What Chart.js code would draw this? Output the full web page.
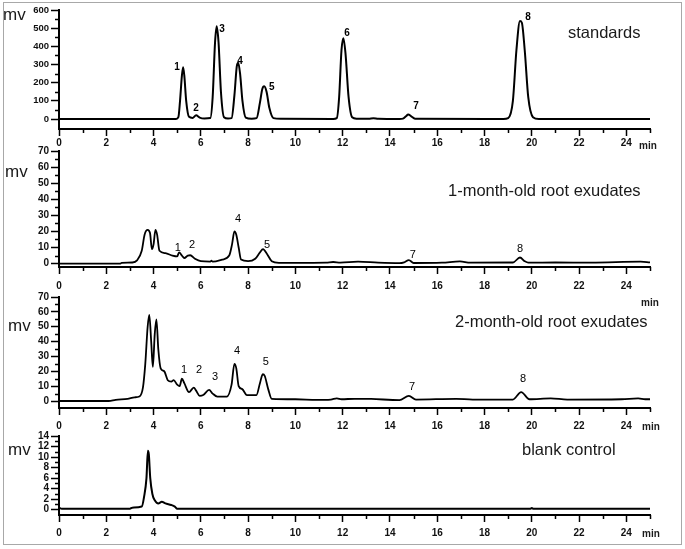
<!DOCTYPE html>
<html>
<head>
<meta charset="utf-8">
<script src="https://cdn.jsdelivr.net/npm/chart.js@4.4.1/dist/chart.umd.min.js"></script>
<style>
  body { margin: 0; background: #fff; }
  #wrap { position: relative; width: 685px; height: 549px; overflow: hidden; }
  #frame { position: absolute; left: 3px; top: 2px; width: 677px; height: 541px; border: 1.5px solid #a8a8a8; }
  canvas { position: absolute; left: 0; }
</style>
</head>
<body>
<div id="wrap">
  <div id="frame"></div>
  <canvas id="c1"></canvas>
  <canvas id="c2"></canvas>
  <canvas id="c3"></canvas>
  <canvas id="c4"></canvas>
</div>
<script>
// time axis (min)
const xTicks = [0, 2, 4, 6, 8, 10, 12, 14, 16, 18, 20, 22, 24];
const xMinor = [1, 3, 5, 7, 9, 11, 13, 15, 17, 19, 21, 23, 25];

// standards
const stdTime = [0, 4.95, 5.05, 5.12, 5.2, 5.25, 5.3, 5.38, 5.5, 5.65, 5.8, 5.95, 6.15, 6.4, 6.5, 6.6, 6.67, 6.75, 6.85, 6.98, 7.15, 7.3, 7.42, 7.52, 7.58, 7.66, 7.76, 7.9, 8.15, 8.36, 8.5, 8.6, 8.68, 8.78, 8.9, 9.07, 9.4, 11.6, 11.75, 11.85, 11.95, 12.03, 12.12, 12.25, 12.4, 12.6, 13.1, 13.3, 13.5, 14.4, 14.55, 14.68, 14.77, 14.9, 15.06, 18.8, 19.0, 19.2, 19.35, 19.5, 19.58, 19.7, 19.85, 20.05, 20.3, 25];
const stdMv = [0, 0, 10, 100, 240, 285, 240, 100, 12, 6, 20, 8, 3, 5, 120, 420, 510, 420, 150, 10, 3, 5, 130, 290, 310, 250, 100, 8, 2, 5, 90, 165, 180, 150, 60, 5, 1, 0, 5, 120, 380, 445, 360, 120, 10, 2, 1, 4, 1, 0, 2, 15, 25, 15, 2, 0, 5, 100, 380, 540, 530, 380, 120, 10, 0, 0];
const stdTicks = [0, 100, 200, 300, 400, 500, 600];
const stdMinor = [50, 150, 250, 350, 450, 550];
const stdPeakNames = ["1", "2", "3", "4", "5", "6", "7", "8"];
const stdPeakT = [4.99, 5.8, 6.9, 7.66, 9.0, 12.18, 15.1, 19.84];
const stdPeakV = [286, 61, 495, 319, 176, 473, 72, 561];

// 1-month-old root exudates
const oneTime = [0, 2.6, 2.65, 3.1, 3.3, 3.5, 3.62, 3.75, 3.85, 3.93, 4.0, 4.08, 4.15, 4.25, 4.5, 4.8, 5.0, 5.08, 5.2, 5.3, 5.45, 5.55, 5.75, 6.0, 6.4, 6.45, 6.5, 6.9, 7.2, 7.32, 7.42, 7.5, 7.6, 7.7, 8.0, 8.3, 8.5, 8.63, 8.8, 9.0, 9.3, 10.5, 11.3, 11.6, 11.9, 12.65, 13.5, 14.4, 14.6, 14.8, 15.0, 16.2, 16.96, 17.4, 19.2, 19.5, 19.7, 19.85, 21.0, 22.5, 24.6, 25];
const oneMv = [0, 0, 0.5, 0.7, 2, 8, 18, 21, 19, 9, 12, 21, 18, 8, 6.5, 5, 4.5, 7, 5, 3.5, 5, 5.2, 3, 1.5, 1.3, 1.8, 1.2, 2.5, 5, 12, 20, 18, 10, 2.5, 1.5, 3, 7, 9, 6, 1.5, 0.5, 0.5, 0.6, 1, 0.6, 1.2, 0.6, 0.3, 0.8, 2.2, 0.4, 0.6, 1.4, 0.6, 0.7, 3.8, 1.5, 0.6, 0.7, 0.6, 1.2, 0.8];
const rootTicks = [0, 10, 20, 30, 40, 50, 60, 70];
const rootMinor = [5, 15, 25, 35, 45, 55, 65];
const onePeakNames = ["1", "2", "4", "5", "7", "8"];
const onePeakT = [5.03, 5.63, 7.57, 8.8, 14.97, 19.5];
const onePeakV = [9.5, 11.4, 27.5, 11.4, 5.2, 8.9];

// 2-month-old root exudates
const twoTime = [0, 2.1, 2.4, 2.9, 3.2, 3.4, 3.55, 3.65, 3.75, 3.82, 3.9, 3.97, 4.05, 4.12, 4.2, 4.3, 4.45, 4.6, 4.75, 4.85, 5.0, 5.1, 5.2, 5.3, 5.5, 5.7, 5.8, 5.95, 6.1, 6.35, 6.5, 6.7, 7.1, 7.3, 7.42, 7.5, 7.6, 7.75, 7.95, 8.35, 8.5, 8.62, 8.7, 8.85, 9.0, 10.0, 10.9, 11.5, 11.75, 11.95, 12.5, 13.2, 14.4, 14.8, 15.1, 16.8, 17.5, 19.2, 19.55, 19.9, 20.8, 21.5, 23.8, 24.5, 24.8, 25];
const twoMv = [0, 0, 0.8, 1.5, 2.5, 3, 9, 25, 50, 58, 40, 23, 45, 55, 35, 22, 20, 14, 13, 14, 11, 10, 15, 12, 6, 9, 7, 3.5, 4, 7.5, 5, 3, 3, 11, 25, 22, 10, 8, 4, 4, 12, 18, 17, 8, 1.5, 1.2, 0.8, 1, 1.8, 1.2, 1.5, 1.4, 0.6, 3.5, 1.0, 1.5, 1.0, 1.0, 6, 1.2, 1.8, 1.0, 1.2, 1.8, 1.2, 1.2];
const twoPeakNames = ["1", "2", "3", "4", "5", "7", "8"];
const twoPeakT = [5.29, 5.92, 6.6, 7.53, 8.75, 14.93, 19.63];
const twoPeakV = [20.7, 20.7, 16, 33.4, 26, 9.2, 14.6];

// blank control
const blankTime = [0, 0.12, 3.0, 3.1, 3.5, 3.6, 3.7, 3.76, 3.8, 3.86, 3.95, 4.05, 4.2, 4.35, 4.5, 4.75, 4.9, 5.0, 19.95, 20.0, 20.05, 25];
const blankMv = [0.4, 0.2, 0.2, 0.4, 0.6, 2.5, 6, 11.2, 10.5, 6, 3, 1.8, 1.2, 1.5, 1.2, 0.9, 0.6, 0.2, 0.2, 0.35, 0.2, 0.2];
const blankTicks = [0, 2, 4, 6, 8, 10, 12, 14];
const blankMinor = [1, 3, 5, 7, 9, 11, 13];

const FONT = "'Liberation Sans', Arial, sans-serif";
Chart.defaults.font.family = FONT;
Chart.defaults.color = "#000";

const panels = [
  { id: "c1", areaTop: 10, axisY: 129, yMin: -55, yMax: 600, yTicks: stdTicks, yMinor: stdMinor, yFont: 9.5,
    time: stdTime, mv: stdMv, names: stdPeakNames, pt: stdPeakT, pv: stdPeakV, peakFont: "bold 10px " + FONT,
    title: "standards", titleX: 568, titleY: 38, mvX: 3, mvY: 20, minX: 639, minY: 149, xPad: 1, lw: 2 },
  { id: "c2", areaTop: 151, axisY: 267, yMin: -2.1, yMax: 70, yTicks: rootTicks, yMinor: rootMinor, yFont: 10,
    time: oneTime, mv: oneMv, names: onePeakNames, pt: onePeakT, pv: onePeakV, peakFont: "11px " + FONT,
    title: "1-month-old root exudates", titleX: 448, titleY: 196, mvX: 5, mvY: 177, minX: 641, minY: 306, xPad: 6, lw: 1.8 },
  { id: "c3", areaTop: 297, axisY: 408, yMin: -4.7, yMax: 70, yTicks: rootTicks, yMinor: rootMinor, yFont: 10,
    time: twoTime, mv: twoMv, names: twoPeakNames, pt: twoPeakT, pv: twoPeakV, peakFont: "11px " + FONT,
    title: "2-month-old root exudates", titleX: 455, titleY: 327, mvX: 8, mvY: 331, minX: 642, minY: 430, xPad: 5, lw: 1.8 },
  { id: "c4", areaTop: 436, axisY: 515, yMin: -1, yMax: 14, yTicks: blankTicks, yMinor: blankMinor, yFont: 10,
    time: blankTime, mv: blankMv, names: [], pt: [], pv: [], peakFont: "11px " + FONT,
    title: "blank control", titleX: 522, titleY: 455, mvX: 8, mvY: 455, minX: 642, minY: 537, xPad: 5, lw: 2 }
];

const PAD_TOP = 10;
const X_H = 32;
const PAD_BOTTOM = 16;

panels.forEach(function (p) {
  const cv = document.getElementById(p.id);
  const top = p.areaTop - PAD_TOP;
  const h = PAD_TOP + (p.axisY - p.areaTop) + X_H + PAD_BOTTOM;
  cv.width = 685;
  cv.height = h;
  cv.style.top = top + "px";
  cv.style.width = "685px";
  cv.style.height = h + "px";

  const deco = {
    id: "deco",
    afterDraw(chart) {
      const ctx = chart.ctx;
      const xs = chart.scales.x, ys = chart.scales.y;
      ctx.save();
      ctx.strokeStyle = "#000";
      ctx.lineWidth = 1.5;
      ctx.beginPath();
      p.yMinor.forEach(function (v) {
        const py = Math.round(ys.getPixelForValue(v)) + 0.5;
        ctx.moveTo(ys.right - 4, py);
        ctx.lineTo(ys.right, py);
      });
      xMinor.forEach(function (v) {
        const px = Math.round(xs.getPixelForValue(v)) + 0.5;
        ctx.moveTo(px, xs.top);
        ctx.lineTo(px, xs.top + 4);
      });
      ctx.stroke();

      ctx.fillStyle = "#000";
      ctx.textAlign = "center";
      ctx.textBaseline = "middle";
      ctx.font = p.peakFont;
      p.names.forEach(function (n, i) {
        ctx.fillText(n, xs.getPixelForValue(p.pt[i]), ys.getPixelForValue(p.pv[i]));
      });

      ctx.textAlign = "left";
      ctx.textBaseline = "alphabetic";
      ctx.fillStyle = "#1a1a1a";
      ctx.font = "16.5px " + FONT;
      ctx.fillText(p.title, p.titleX, p.titleY - top);
      ctx.font = "17px " + FONT;
      ctx.fillText("mv", p.mvX, p.mvY - top);
      ctx.font = "bold 10px " + FONT;
      ctx.fillText("min", p.minX, p.minY - top);
      ctx.restore();
    }
  };

  new Chart(cv, {
    type: "line",
    data: {
      datasets: [{
        data: p.time.map(function (t, i) { return { x: t, y: p.mv[i] }; }),
        borderColor: "#000",
        borderWidth: p.lw,
        pointRadius: 0,
        cubicInterpolationMode: "monotone",
        fill: false
      }]
    },
    options: {
      responsive: false,
      animation: false,
      events: [],
      layout: { padding: { top: PAD_TOP, left: 0, right: 35, bottom: PAD_BOTTOM } },
      plugins: { legend: { display: false }, tooltip: { enabled: false } },
      scales: {
        x: {
          type: "linear",
          min: 0,
          max: 25,
          afterFit: function (s) { s.height = X_H; },
          afterBuildTicks: function (s) { s.ticks = xTicks.map(function (v) { return { value: v }; }); },
          grid: { drawOnChartArea: false, tickLength: 7, tickWidth: 1.5, tickColor: "#000" },
          border: { color: "#000", width: 2 },
          ticks: { padding: p.xPad, autoSkip: false, maxRotation: 0, font: { size: 10, weight: "bold" }, color: "#111" }
        },
        y: {
          min: p.yMin,
          max: p.yMax,
          afterFit: function (s) { s.width = 59; },
          afterBuildTicks: function (s) { s.ticks = p.yTicks.map(function (v) { return { value: v }; }); },
          grid: { drawOnChartArea: false, tickLength: 8, tickWidth: 1.5, tickColor: "#000" },
          border: { color: "#000", width: 2 },
          ticks: { padding: 2, autoSkip: false, font: { size: p.yFont, weight: "bold" }, color: "#111" }
        }
      }
    },
    plugins: [deco]
  });
});
</script>
</body>
</html>
